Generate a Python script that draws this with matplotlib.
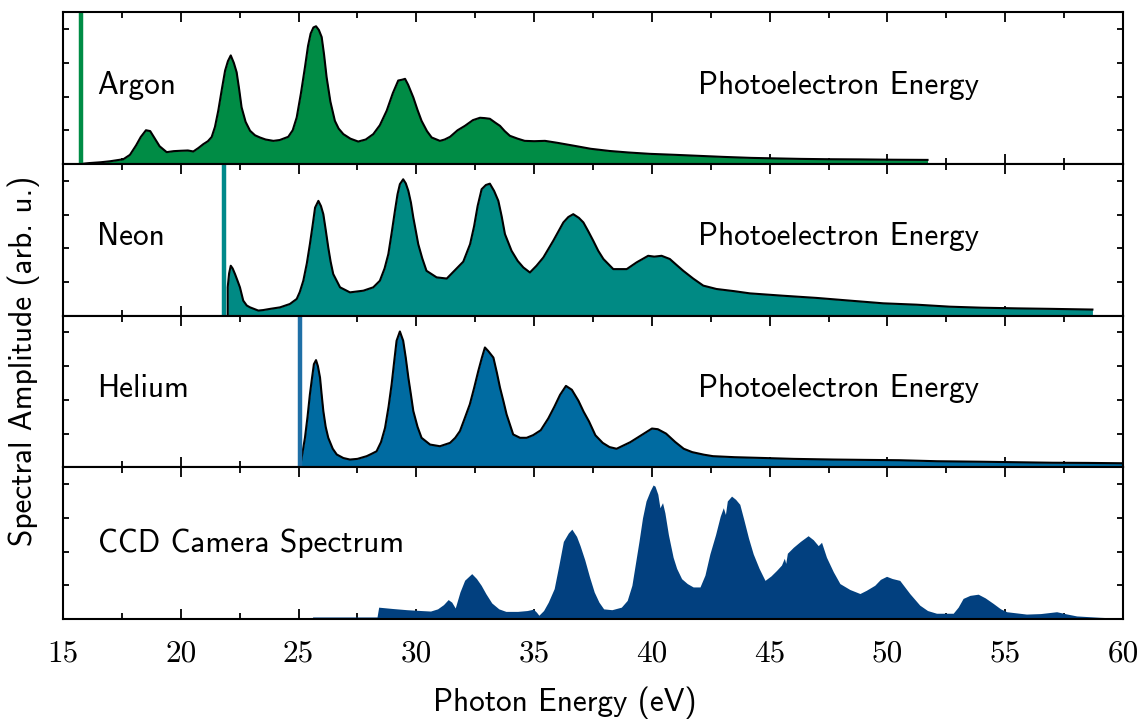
import matplotlib.pyplot as plt

# Photoelektronenspektren (Energie in eV, Amplitude in willk. Einheiten)
argon_ev = [15.76, 16.1, 16.6, 17.0, 17.56, 17.84, 18.1, 18.3, 18.52, 18.7, 18.9, 19.1, 19.4, 19.7,
            19.97, 20.3, 20.53, 20.75, 20.95, 21.15, 21.31, 21.45, 21.59, 21.75, 21.88, 22.0, 22.12,
            22.25, 22.37, 22.48, 22.58, 22.75, 22.94, 23.15, 23.36, 23.6, 23.93, 24.2, 24.56, 24.75,
            24.92, 25.1, 25.27, 25.4, 25.51, 25.63, 25.74, 25.86, 25.98, 26.08, 26.19, 26.35, 26.54,
            26.7, 26.9, 27.2, 27.53, 27.85, 28.17, 28.45, 28.74, 29.0, 29.23, 29.4, 29.52, 29.65,
            29.87, 30.05, 30.22, 30.45, 30.65, 31.0, 31.2, 31.43, 31.75, 32.06, 32.4, 32.7, 32.9,
            33.12, 33.35, 33.55, 33.75, 33.97, 34.3, 34.6, 35.0, 35.46, 36.0, 36.73, 37.4, 38.2,
            39.0, 39.9, 41.0, 42.0, 43.0, 44.2, 45.2, 46.3, 47.5, 48.8, 50.2, 51.7]
argon_amp = [0.0, 0.05, 0.10, 0.16, 0.28, 0.54, 1.1, 1.6, 2.0, 1.95, 1.5, 1.05, 0.7, 0.76,
             0.78, 0.8, 0.74, 0.95, 1.17, 1.35, 1.6, 2.2, 3.16, 4.5, 5.54, 6.1, 6.44,
             6.0, 5.44, 4.4, 3.36, 2.5, 1.97, 1.7, 1.57, 1.45, 1.37, 1.42, 1.61, 2.0,
             2.76, 4.2, 5.74, 7.0, 7.73, 8.1, 8.17, 7.95, 7.53, 6.5, 5.14, 3.7, 2.56,
             2.1, 1.77, 1.5, 1.33, 1.45, 1.77, 2.3, 3.16, 4.2, 4.95, 5.0, 5.05, 4.7,
             3.95, 3.2, 2.56, 1.95, 1.57, 1.37, 1.45, 1.61, 2.0, 2.26, 2.6, 2.74, 2.72,
             2.68, 2.45, 2.26, 1.95, 1.67, 1.5, 1.37, 1.35, 1.37, 1.25, 1.07, 0.9, 0.77,
             0.68, 0.6, 0.54, 0.48, 0.42, 0.36, 0.33, 0.3, 0.28, 0.27, 0.25, 0.24]

neon_ev = [21.99, 21.99, 22.05, 22.12, 22.2, 22.3, 22.4, 22.51, 22.65, 22.8, 22.94, 23.29, 23.5,
           23.79, 24.21, 24.63, 24.92, 25.05, 25.2, 25.35, 25.48, 25.6, 25.7, 25.84, 25.95, 26.05,
           26.15, 26.26, 26.36, 26.47, 26.76, 27.18, 27.75, 28.17, 28.45, 28.65, 28.81, 28.95, 29.09,
           29.2, 29.3, 29.44, 29.55, 29.66, 29.77, 29.87, 29.98, 30.08, 30.25, 30.43, 30.86, 31.29,
           31.57, 31.99, 32.28, 32.45, 32.6, 32.77, 32.95, 33.12, 33.3, 33.48, 33.62, 33.76, 34.04,
           34.3, 34.54, 34.82, 35.1, 35.39, 35.81, 36.24, 36.45, 36.66, 36.9, 37.09, 37.3, 37.51,
           37.72, 37.94, 38.36, 38.93, 39.35, 39.84, 40.1, 40.41, 40.76, 41.05, 41.33, 41.75, 42.18,
           42.74, 43.5, 44.16, 45.57, 46.99, 48.4, 49.82, 51.23, 52.65, 54.0, 55.5, 57.0, 58.7]
neon_amp = [0.0, 1.68, 2.5, 2.96, 2.8, 2.47, 2.1, 1.68, 0.89, 0.6, 0.49, 0.30, 0.33,
            0.40, 0.49, 0.69, 0.99, 1.4, 2.07, 3.1, 4.24, 5.4, 6.41, 6.81, 6.5, 6.02,
            5.1, 4.04, 3.2, 2.47, 1.68, 1.38, 1.48, 1.68, 2.07, 2.8, 3.65, 4.9, 6.22,
            7.2, 7.8, 8.09, 7.85, 7.4, 6.7, 5.82, 5.0, 4.24, 3.4, 2.66, 2.27, 2.2,
            2.6, 3.2, 4.24, 5.3, 6.5, 7.5, 7.75, 7.83, 7.4, 6.81, 5.9, 4.84, 3.85,
            3.25, 2.86, 2.56, 2.96, 3.45, 4.44, 5.53, 5.85, 6.02, 5.8, 5.53, 5.0, 4.44,
            3.85, 3.36, 2.76, 2.76, 3.16, 3.55, 3.5, 3.55, 3.36, 3.0, 2.66, 2.2, 1.78,
            1.58, 1.45, 1.32, 1.18, 1.05, 0.89, 0.73, 0.65, 0.53, 0.47, 0.43, 0.4, 0.36]

helium_ev = [25.06, 25.08, 25.27, 25.38, 25.48, 25.57, 25.65, 25.74, 25.82, 25.91, 25.98, 26.05,
             26.15, 26.26, 26.45, 26.62, 26.9, 27.18, 27.5, 27.89, 28.1, 28.31, 28.5, 28.67, 28.82,
             28.95, 29.06, 29.16, 29.3, 29.44, 29.55, 29.66, 29.77, 29.87, 30.05, 30.22, 30.58,
             31.0, 31.43, 31.65, 31.85, 32.05, 32.27, 32.45, 32.63, 32.78, 32.91, 33.05, 33.27,
             33.42, 33.55, 33.7, 33.83, 34.11, 34.4, 34.68, 34.96, 35.28, 35.6, 35.86, 36.1, 36.35,
             36.6, 36.88, 37.1, 37.33, 37.6, 37.91, 38.2, 38.5, 39.08, 39.66, 40.0, 40.25, 40.6,
             40.99, 41.35, 41.71, 42.2, 42.59, 43.5, 44.79, 46.0, 47.72, 49.0, 50.5, 52.1, 54.0,
             55.5, 57.0, 58.5, 60.0]
helium_amp = [0.0, 0.16, 1.75, 3.0, 4.33, 5.3, 6.12, 6.36, 6.0, 5.32, 4.3, 3.34,
              2.4, 1.75, 1.1, 0.76, 0.55, 0.46, 0.5, 0.66, 0.8, 0.95, 1.5, 2.34, 3.6,
              4.93, 6.3, 7.51, 8.06, 7.51, 6.5, 5.32, 4.3, 3.34, 2.4, 1.75, 1.35,
              1.25, 1.45, 1.75, 2.15, 2.9, 3.74, 4.7, 5.72, 6.5, 7.11, 6.9, 6.51,
              5.6, 4.73, 3.9, 3.14, 1.95, 1.75, 1.75, 1.91, 2.2, 2.9, 3.6, 4.3, 4.83,
              4.6, 3.95, 3.3, 2.72, 1.9, 1.45, 1.2, 1.1, 1.49, 2.0, 2.3, 2.26, 2.0,
              1.5, 1.1, 0.9, 0.75, 0.66, 0.6, 0.55, 0.5, 0.46, 0.44, 0.42, 0.36, 0.33,
              0.3, 0.27, 0.26, 0.24]

ccd_ev = [25.55, 25.6, 28.33, 28.4, 29.0, 29.6, 30.2, 30.6, 30.9, 31.15, 31.35, 31.5, 31.65, 31.85,
          32.05, 32.35, 32.55, 32.75, 32.95, 33.2, 33.5, 33.8, 34.3, 34.7, 34.97, 35.1, 35.2, 35.4,
          35.6, 35.85, 36.05, 36.24, 36.45, 36.6, 36.8, 36.95, 37.15, 37.35, 37.55, 37.75, 37.95,
          38.3, 38.7, 38.95, 39.15, 39.3, 39.45, 39.6, 39.75, 39.92, 40.05, 40.13, 40.25, 40.34,
          40.45, 40.55, 40.7, 40.9, 41.05, 41.26, 41.5, 41.75, 42.04, 42.25, 42.46, 42.7, 42.9,
          43.03, 43.12, 43.2, 43.38, 43.55, 43.73, 43.9, 44.1, 44.3, 44.55, 44.8, 45.05, 45.29,
          45.5, 45.62, 45.68, 45.75, 46.0, 46.3, 46.63, 46.85, 47.06, 47.2, 47.41, 47.7, 47.98,
          48.4, 48.83, 49.1, 49.46, 49.7, 49.96, 50.2, 50.52, 50.95, 51.37, 51.7, 52.08, 52.79,
          53.0, 53.21, 53.5, 53.85, 54.15, 54.49, 54.8, 55.06, 55.9, 56.5, 57.18, 57.6, 58.03,
          59.0, 60.0]
ccd_amp = [0.0, 0.12, 0.12, 0.7, 0.62, 0.55, 0.5, 0.47, 0.6, 0.85, 1.15, 1.0, 0.65, 1.6,
           2.3, 2.69, 2.4, 2.0, 1.5, 0.95, 0.6, 0.45, 0.45, 0.5, 0.58, 0.4, 0.22, 0.5,
           1.0, 1.8, 3.2, 4.6, 5.1, 5.33, 4.9, 4.35, 3.5, 2.5, 1.6, 1.0, 0.6,
           0.55, 0.7, 1.1, 2.0, 3.3, 4.6, 6.0, 7.0, 7.59, 7.95, 7.88, 7.4, 6.6,
           6.9, 6.3, 5.0, 3.66, 3.0, 2.39, 2.1, 1.9, 1.9, 2.6, 3.86, 5.0, 6.1,
           6.6, 6.2, 7.0, 7.29, 7.1, 6.8, 5.9, 4.8, 3.86, 3.0, 2.29, 2.55, 2.88,
           3.2, 3.6, 3.3, 3.9, 4.25, 4.6, 4.94, 4.7, 4.35, 4.55, 3.66, 2.8, 2.1,
           1.75, 1.51, 1.7, 2.0, 2.35, 2.53, 2.4, 2.29, 1.5, 0.82, 0.5, 0.34, 0.34,
           0.7, 1.22, 1.4, 1.47, 1.25, 0.92, 0.6, 0.43, 0.29, 0.32, 0.43, 0.3, 0.18,
           0.1, 0.04]

# Ionisationsschwellen (vertikale Linien)
argon_ip = 15.76
neon_ip = 21.85
helium_ip = 25.06

labels = ['Argon', 'Neon', 'Helium', 'CCD Camera Spectrum']
xtick_values = [15, 20, 25, 30, 35, 40, 45, 50, 55, 60]
xtick_labels = ['15', '20', '25', '30', '35', '40', '45', '50', '55', '60']

fill_colors = ['#008C45', '#008A84', '#006BA1', '#02407F']
line_colors = ['#008C45', '#00898A', '#1E6FA6']

fig, axes = plt.subplots(4, 1, sharex=True, figsize=(11.42, 7.22), dpi=100)
fig.subplots_adjust(left=0.0552, right=0.9834, bottom=0.1427, top=0.983, hspace=0)

spectra = [(argon_ev, argon_amp), (neon_ev, neon_amp), (helium_ev, helium_amp)]
ips = [argon_ip, neon_ip, helium_ip]

for i, ax in enumerate(axes[:3]):
    x, y = spectra[i]
    ax.fill_between(x, y, 0, color=fill_colors[i], linewidth=0, zorder=2)
    ax.plot(x, y, color='black', lw=1.5, zorder=3)
    ax.axvline(ips[i], color=line_colors[i], lw=3.2, zorder=4)
    ax.text(0.032, 0.52, labels[i], transform=ax.transAxes, fontsize=22.5,
            fontfamily='cmss10', va='center', ha='left')
    ax.text(0.599, 0.52, 'Photoelectron Energy', transform=ax.transAxes, fontsize=22.5,
            fontfamily='cmss10', va='center', ha='left')

axes[3].fill_between(ccd_ev, ccd_amp, 0, color=fill_colors[3], linewidth=0, zorder=2)
axes[3].text(0.033, 0.5, labels[3], transform=axes[3].transAxes, fontsize=22.5,
             fontfamily='cmss10', va='center', ha='left')

for ax in axes:
    ax.set_xlim(15, 60)
    ax.set_ylim(0, 9)
    ax.set_yticks([2, 4, 6, 8])
    ax.set_yticklabels([])
    ax.set_xticks([17.5, 22.5, 27.5, 32.5, 37.5, 42.5, 47.5, 52.5, 57.5], minor=True)
    ax.tick_params(axis='both', which='both', direction='in', top=True, right=True, width=1.3)
    ax.tick_params(axis='x', which='major', length=7)
    ax.tick_params(axis='x', which='minor', length=4)
    ax.tick_params(axis='y', length=4)
    for sp in ax.spines.values():
        sp.set_linewidth(1.5)
        sp.set_zorder(5)

axes[3].set_xticks(xtick_values)
axes[3].set_xticklabels(xtick_labels, fontfamily='cmr10', fontsize=22.5)
axes[3].tick_params(axis='x', which='major', pad=15)

fig.text(0.495, 0.026, 'Photon Energy (eV)', fontsize=22.5, fontfamily='cmss10',
         ha='center', va='center')
fig.text(0.021, 0.5, 'Spectral Amplitude (arb. u.)', fontsize=22.5, fontfamily='cmss10',
         ha='center', va='center', rotation=90)

fig.savefig('out.png', dpi=100)
